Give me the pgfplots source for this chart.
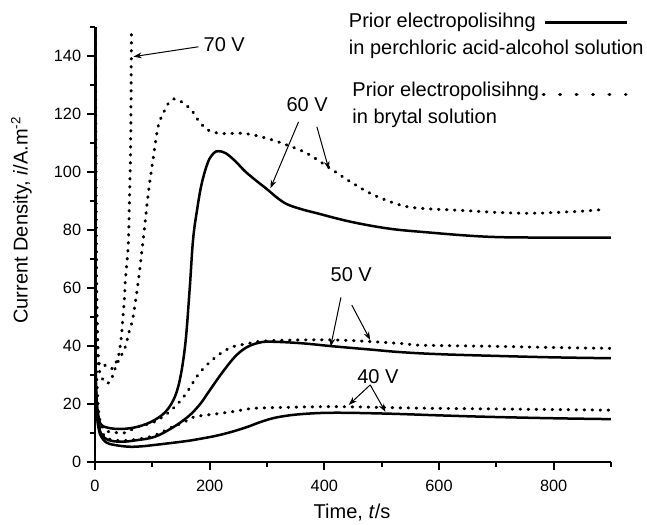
\documentclass[border=0pt]{standalone}
\usepackage{pgfplots}
\pgfplotsset{compat=1.18}
\usepackage{fontspec}
\setmainfont{Liberation Sans}
\usetikzlibrary{arrows.meta}
\begin{document}
\begin{tikzpicture}
\begin{axis}[
  at={(0,0)}, anchor=south west, scale only axis,
  width=309.6pt, height=261pt,
  xmin=0, xmax=900, ymin=0, ymax=150,
  axis x line=bottom, axis y line=left,
  axis line style={-, line width=1.2pt},
  xtick={0,200,400,600,800}, ytick={0,20,...,140},
  minor xtick={100,300,500,700,900},
  minor ytick={10,30,50,70,90,110,130,150},
  tick align=outside,
  major tick length=4.8pt, minor tick length=3pt,
  every tick/.style={line width=1.2pt, black},
  clip=true, clip mode=individual,
  tick label style={font=\fontsize{9.8}{11}\selectfont},
  xticklabel style={yshift=-2.5pt},
  /pgf/number format/assume math mode=true,
  solid curve/.style={line width=1.5pt, black, smooth, tension=0.6},
  dot curve/.style={line width=1.8pt, black, smooth, tension=0.6, dash pattern=on 0.4pt off 4.4pt, line cap=round},
]
% 40 V solid
\addplot[solid curve] coordinates {(0.5,150)(1,40)(2,22)(4,15)(7,11)(11,8.8)(20,6.8)(34,6.0)(58,5.4)(80,5.5)(104,6.0)(130,6.6)(162,7.4)(183,8.1)(205,8.9)(225,9.8)(245,10.9)(267,12.3)(290,14)(317,15.5)(358,16.6)(416,17.1)(509,16.8)(600,16.2)(684,15.7)(800,15.2)(900,14.9)};
% 50 V solid
\addplot[solid curve] coordinates {(0.5,150)(1,40)(2,23)(4,16)(7,12)(12,9.5)(23,7.7)(46,7.1)(75,7.7)(104,8.8)(133,11.7)(162,15.7)(183,20)(200,24.8)(221,30.7)(244,36.4)(264,39.6)(285,41.2)(305,41.6)(358,41.1)(416,40)(480,38.9)(533,38)(600,37.3)(700,36.7)(800,36.2)(900,35.9)};
% 60 V solid
\addplot[solid curve] coordinates {(0.5,150)(1,45)(2,26)(4,19)(7,15)(11,12.9)(23,11.9)(46,11.5)(75,12.3)(104,14.6)(128,18.6)(145,26)(157,39.9)(165,59.4)(171,76.7)(178,87)(186,96)(197,103.5)(207,106.6)(215,107.3)(228,106.6)(245,103.8)(261,100.5)(280,97.3)(300,94.2)(318,91.2)(335,89)(360,87.3)(387,85.9)(445,83)(509,80.7)(568,79.5)(684,77.8)(800,77.5)(900,77.5)};
% 40 V dotted
\addplot[dot curve] coordinates {(0.5,150)(2,40)(4,22)(8,13)(15,9.5)(25,8)(46,7.5)(75,8)(104,9.3)(133,12)(157,14)(174,15.7)(215,16.8)(244,17.6)(267,18.4)(300,18.8)(416,19.2)(533,18.8)(600,18.6)(700,18.4)(800,18.2)(900,18)};
% 50 V dotted
\addplot[dot curve] coordinates {(0.5,150)(2,45)(4,25)(8,15)(15,11.5)(25,10.5)(40,10.2)(52,10.2)(75,12.3)(104,14)(133,18)(157,23.2)(183,31)(215,37)(241,39.9)(264,40.8)(300,41.9)(416,42.2)(533,41)(568,40.4)(700,40)(800,39.6)(900,39.3)};
% 60 V dotted
\addplot[dot curve] coordinates {(0.5,150)(2,80)(4,45)(7,33)(11,29.5)(20,27.2)(28,28.4)(34,31.8)(43,35.9)(52,39.3)(61,46.2)(66,49.6)(75,61.7)(84,76.7)(93,92.8)(101,104.2)(110,115.7)(119,120.3)(128,123.8)(138,125.3)(151,124.3)(168,121.5)(180,118)(197,114.6)(221,113.4)(261,113.4)(300,111.7)(335,109.4)(370,106.5)(410,101.4)(445,96.8)(486,92.2)(533,88.7)(568,87.6)(626,87)(742,85.9)(830,86.4)(888,87.2)};
% 70 V dotted
\addplot[dot curve] coordinates {(0.5,150)(2,70)(5,40)(8,33.5)(17,33.5)(25,32.5)(31,32.5)(40,36)(43,39)(46,43.3)(49,50.8)(51,55.4)(53,62.9)(58,75)(60,90)(62,107)(63,130)(63.5,150)};

% annotations
\tikzset{lbl/.style={font=\fontsize{12}{14}\selectfont, inner sep=0pt, anchor=base west}}
\tikzset{arr/.style={line width=0.6pt, -{Stealth[length=5pt,width=3.5pt]}}}
\node[lbl] at (axis cs:189,141.8) {70 V};
\draw[arr] (axis cs:180.5,143.3) -- (axis cs:67,139.9);
\node[lbl] at (axis cs:333.6,120.9) {60 V};
\draw[arr] (axis cs:355,117.4) -- (axis cs:306,94.5);
\draw[arr] (axis cs:387,115.7) -- (axis cs:408,101);
\node[lbl] at (axis cs:410.5,62.3) {50 V};
\draw[arr] (axis cs:429,56.9) -- (axis cs:411,39.9);
\draw[arr] (axis cs:448,54.2) -- (axis cs:480,42.2);
\node[lbl] at (axis cs:457,27.2) {40 V};
\draw[arr] (axis cs:480,26.7) -- (axis cs:442.5,19.8);
\draw[arr] (axis cs:480,26.7) -- (axis cs:506.6,17.4);

% legend
\node[lbl] at (axis cs:442.4,149.9) {Prior electropolisihng};
\node[lbl] at (axis cs:442.4,140.7) {in perchloric acid-alcohol solution};
\draw[line width=1.5pt] (axis cs:784.3,151.7) -- (axis cs:928.7,151.7);
\node[lbl] at (axis cs:448.4,126.1) {Prior electropolisihng};
\node[lbl] at (axis cs:448.4,116.9) {in brytal solution};
\draw[line width=2pt, line cap=round, dash pattern=on 0.4pt off 9.47pt] (axis cs:782,126.9) -- (axis cs:926,126.9);

% axis labels
\node[font=\fontsize{12}{14}\selectfont, rotate=90, anchor=center, inner sep=0pt] at (axis description cs:-0.1424,0.557) {Current Density, \textit{i}/A.m\textsuperscript{-2}};
\node[font=\fontsize{12}{14}\selectfont, anchor=base, inner sep=0pt] at (axis description cs:0.4981,-0.128) {Time, \textit{t}/s};
\end{axis}
\pgfresetboundingbox
\useasboundingbox (-57pt,-37pt) rectangle (331.2pt,277.4pt);
\end{tikzpicture}
\end{document}
